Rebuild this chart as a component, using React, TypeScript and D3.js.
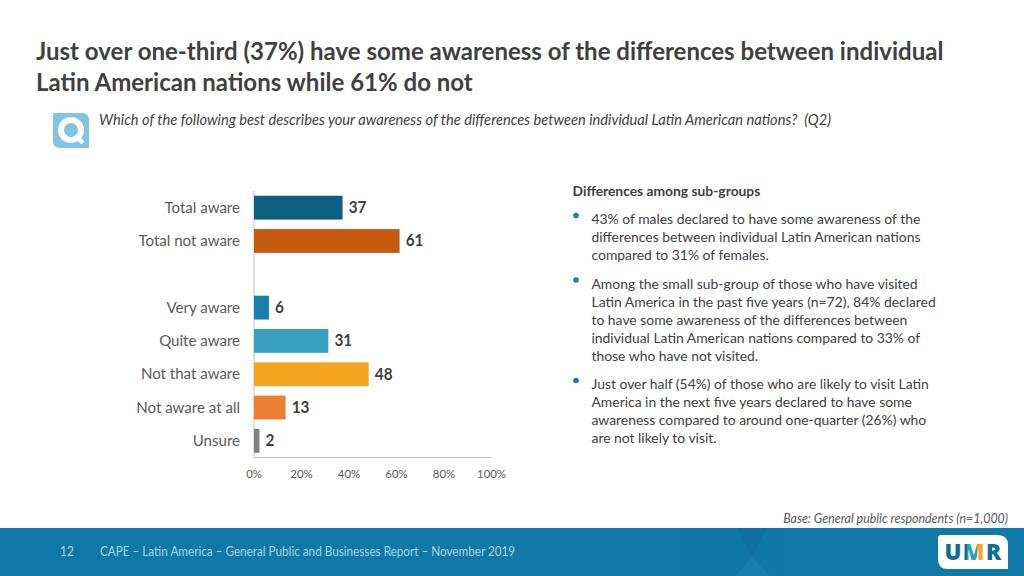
import React from "react";
import * as d3 from "d3";

const categories = ["Total aware", "Total not aware", "", "Very aware", "Quite aware", "Not that aware", "Not aware at all", "Unsure"];
const values = [37, 61, null, 6, 31, 48, 13, 2];
const barColors = ["#0f5f82", "#c55a11", "none", "#1a7fb0", "#369fc0", "#f5a51f", "#ed7d31", "#7f7f7f"];
const xTicks = [0, 20, 40, 60, 80, 100];
const titleLines = [
  "Just over one-third (37%) have some awareness of the differences between individual",
  "Latin American nations while 61% do not",
];
const question = "Which of the following best describes your awareness of the differences between individual Latin American nations?  (Q2)";
const subHeading = "Differences among sub-groups";
const bullets = [
  ["43% of males declared to have some awareness of the", "differences between individual Latin American nations", "compared to 31% of females."],
  ["Among the small sub-group of those who have visited", "Latin America in the past five years (n=72), 84% declared", "to have some awareness of the differences between", "individual Latin American nations compared to 33% of", "those who have not visited."],
  ["Just over half (54%) of those who are likely to visit Latin", "America in the next five years declared to have some", "awareness compared to around one-quarter (26%) who", "are not likely to visit."],
];
const baseNote = "Base: General public respondents (n=1,000)";
const pageNumber = "12";
const footerText = "CAPE – Latin America – General Public and Businesses Report – November 2019";

const FONT = "Lato, 'Open Sans', sans-serif";

function T({ x, y, size, fill = "#404040", weight = 400, italic = false, anchor = "start", sx = 0.93, children }: any) {
  return (
    <text
      transform={`translate(${x},${y}) scale(${sx},1)`}
      fontFamily={FONT}
      fontSize={size}
      fill={fill}
      fontWeight={weight}
      fontStyle={italic ? "italic" : "normal"}
      textAnchor={anchor}
      style={{ whiteSpace: "pre" }}
    >
      {children}
    </text>
  );
}

export default function App() {
  const x = d3.scaleLinear().domain([0, 100]).range([254, 491.5]);
  const y = d3.scaleBand<number>().domain(d3.range(categories.length)).range([191, 457.5]).paddingInner(0.285).paddingOuter(0.1425);
  const band = y.bandwidth();

  const bulletStarts = [219, 283.5, 384];
  const lineGap = 18;

  return (
    <svg width={1024} height={576} style={{ position: "absolute", left: 0, top: 0, background: "#fff" }}>
      <defs>
        <linearGradient id="foot" x1="0" x2="1" y1="0" y2="0">
          <stop offset="0" stopColor="#0f78a6" />
          <stop offset="0.5" stopColor="#1079a7" />
          <stop offset="0.72" stopColor="#0f77a5" />
          <stop offset="1" stopColor="#0f7aa9" />
        </linearGradient>
        <linearGradient id="umr" gradientUnits="userSpaceOnUse" x1={945} x2={1002} y1={0} y2={0}>
          <stop offset="0.386" stopColor="#0f6d94" />
          <stop offset="0.386" stopColor="#2c9ec4" />
          <stop offset="0.56" stopColor="#2c9ec4" />
          <stop offset="0.56" stopColor="#f5a51f" />
          <stop offset="0.737" stopColor="#f5a51f" />
          <stop offset="0.737" stopColor="#0f6d94" />
        </linearGradient>
      </defs>

      {titleLines.map((l, i) => (
        <T key={i} x={36} y={59.5 + i * 31} size={24.5} weight={700} sx={0.981}>{l}</T>
      ))}

      {/* Q icon */}
      <path d="M53 113 H82 Q89 113 89 120 V148 H60 Q53 148 53 141 Z" fill="#7fc4e2" />
      <circle cx={71} cy={130} r={10} fill="none" stroke="#fff" strokeWidth={6} />
      <path d="M76 136 L83 143" stroke="#fff" strokeWidth={4} />
      <T x={99} y={125} size={14.5} italic sx={1.012}>{question}</T>

      {/* chart */}
      <line x1={x(0)} x2={x(0)} y1={191} y2={457.5} stroke="#bfbfbf" />
      <line x1={x(0)} x2={x(100)} y1={457.5} y2={457.5} stroke="#bfbfbf" />
      {categories.map((c, i) => {
        const v = values[i];
        const yy = y(i)!;
        return (
          <g key={i}>
            {c && <T x={240} y={yy + band / 2 + 5} size={15} anchor="end" fill="#595959" sx={1.005}>{c}</T>}
            {v != null && <rect x={x(0)} y={yy} width={x(v) - x(0) + 0.7} height={band} fill={barColors[i]} />}
            {v != null && <T x={x(v) + 6.8} y={yy + band / 2 + 5.5} size={16.5} weight={700} sx={0.93}>{v}</T>}
          </g>
        );
      })}
      {xTicks.map((t) => (
        <T key={t} x={x(t)} y={478} size={12} anchor="middle" fill="#595959" sx={0.95}>{t}%</T>
      ))}

      {/* right text */}
      <T x={572.5} y={195.5} size={14} weight={700} sx={0.988}>{subHeading}</T>
      {bullets.map((lines, b) => (
        <g key={b}>
          <circle cx={576} cy={bulletStarts[b] - 3.5} r={2.8} fill="#1a7fb0" />
          {lines.map((l, i) => (
            <T key={i} x={591.5} y={bulletStarts[b] + 5 + i * lineGap} size={14} sx={0.993}>{l}</T>
          ))}
        </g>
      ))}

      <T x={1008} y={523} size={12.5} italic anchor="end" fill="#595959" sx={0.994}>{baseNote}</T>

      {/* footer */}
      <rect x={0} y={528} width={1024} height={48} fill="url(#foot)" />
      <path d="M737 528 H767 L752 557 Z" fill="#0c6d9a" opacity={0.6} />
      <path d="M752 557 L735 576 H770 Z" fill="#1b84b0" opacity={0.6} />
      <T x={60} y={556} size={12.5} fill="#a9d3e6" sx={0.95}>{pageNumber}</T>
      <T x={100} y={556} size={12.5} fill="#a9d3e6" sx={0.937}>{footerText}</T>

      {/* logo */}
      <path d="M941 535 H998 Q1008 535 1008 545 V569 H948 Q938 569 938 559 V538 Q938 535 941 535 Z" fill="#fff" />
      <text x={973.5} y={560} textAnchor="middle" fontFamily="'Open Sans', sans-serif" fontSize={22.4} fontWeight={800} fill="url(#umr)" letterSpacing={1.5}>
        UMR
      </text>
    </svg>
  );
}
